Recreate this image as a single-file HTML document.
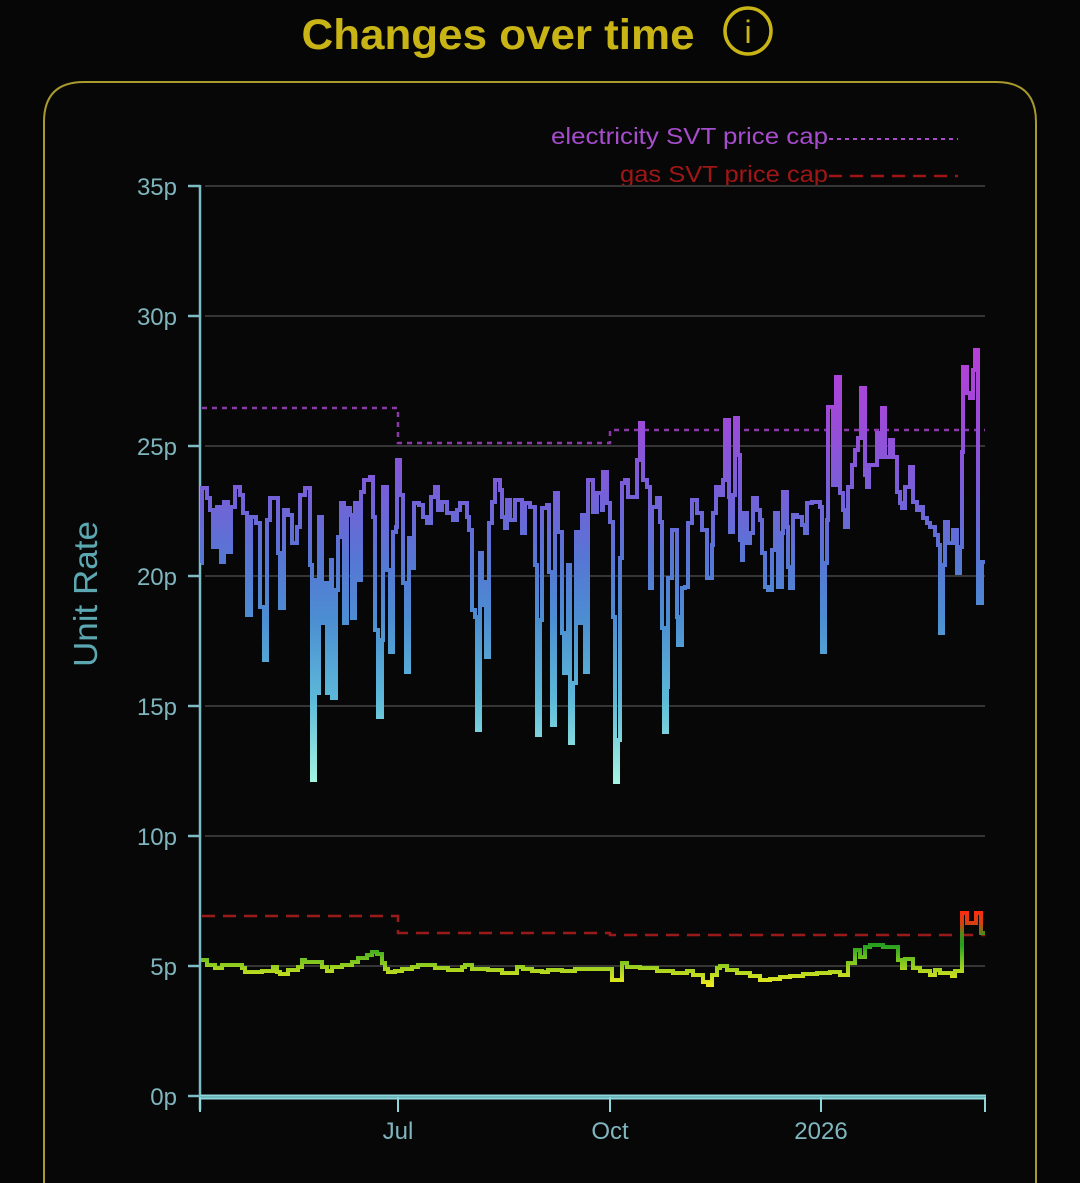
<!DOCTYPE html>
<html><head><meta charset="utf-8"><style>
html,body{margin:0;padding:0;background:#060606;}
svg{display:block;}
text{font-family:"Liberation Sans",sans-serif;}
</style></head><body>
<svg width="1080" height="1183" viewBox="0 0 1080 1183" xmlns="http://www.w3.org/2000/svg">
<defs>
<linearGradient id="eg" gradientUnits="userSpaceOnUse" x1="0" y1="350" x2="0" y2="785">
<stop offset="0" stop-color="#b83ed8"/>
<stop offset="0.17" stop-color="#9a4cd8"/>
<stop offset="0.33" stop-color="#7660d8"/>
<stop offset="0.48" stop-color="#5676d4"/>
<stop offset="0.62" stop-color="#4c8ed2"/>
<stop offset="0.8" stop-color="#5cb8d8"/>
<stop offset="1" stop-color="#a6f6e2"/>
</linearGradient>
<linearGradient id="gg" gradientUnits="userSpaceOnUse" x1="0" y1="910" x2="0" y2="986">
<stop offset="0" stop-color="#ff2a10"/>
<stop offset="0.18" stop-color="#d64010"/>
<stop offset="0.32" stop-color="#4c8c18"/>
<stop offset="0.46" stop-color="#24a020"/>
<stop offset="0.66" stop-color="#78c420"/>
<stop offset="0.82" stop-color="#b6d820"/>
<stop offset="1" stop-color="#f2ea20"/>
</linearGradient>
</defs>
<rect width="1080" height="1183" fill="#060606"/>
<!-- title -->
<text x="498" y="49" text-anchor="middle" font-size="43" font-weight="bold" fill="#c9b416" textLength="393" lengthAdjust="spacingAndGlyphs">Changes over time</text>
<circle cx="748" cy="31" r="23" fill="none" stroke="#c9b416" stroke-width="3.5"/>
<text x="748" y="43" text-anchor="middle" font-size="32" fill="#c9b416">i</text>
<!-- card -->
<path d="M44,1183 V122 Q44,82 84,82 H996 Q1036,82 1036,122 V1183" fill="#070707" stroke="#a89a2c" stroke-width="2"/>
<!-- legend -->
<text x="828" y="144" text-anchor="end" font-size="23" fill="#a64ccc" textLength="277" lengthAdjust="spacingAndGlyphs">electricity SVT price cap</text>
<line x1="829" y1="139" x2="958" y2="139" stroke="#a64ccc" stroke-width="2" stroke-dasharray="4 4"/>
<text x="828" y="182" text-anchor="end" font-size="23" fill="#a01616" textLength="208" lengthAdjust="spacingAndGlyphs">gas SVT price cap</text>
<line x1="829" y1="176" x2="958" y2="176" stroke="#a01616" stroke-width="2.5" stroke-dasharray="13 8"/>
<!-- grid -->
<g stroke="#353535" stroke-width="2">
<line x1="205" y1="186" x2="985" y2="186"/>
<line x1="205" y1="316" x2="985" y2="316"/>
<line x1="205" y1="446" x2="985" y2="446"/>
<line x1="205" y1="576" x2="985" y2="576"/>
<line x1="205" y1="706" x2="985" y2="706"/>
<line x1="205" y1="836" x2="985" y2="836"/>
<line x1="205" y1="966" x2="985" y2="966"/>
</g>
<!-- y axis -->
<g stroke="#7cbcc4" stroke-width="2.5">
<line x1="200" y1="185" x2="200" y2="1110"/>
<line x1="188" y1="186" x2="200" y2="186"/>
<line x1="188" y1="316" x2="200" y2="316"/>
<line x1="188" y1="446" x2="200" y2="446"/>
<line x1="188" y1="576" x2="200" y2="576"/>
<line x1="188" y1="706" x2="200" y2="706"/>
<line x1="188" y1="836" x2="200" y2="836"/>
<line x1="188" y1="966" x2="200" y2="966"/>
<line x1="188" y1="1096" x2="200" y2="1096"/>
</g>
<g font-size="24" fill="#7fb6be" text-anchor="end">
<text x="177" y="195">35p</text>
<text x="177" y="325">30p</text>
<text x="177" y="455">25p</text>
<text x="177" y="585">20p</text>
<text x="177" y="715">15p</text>
<text x="177" y="845">10p</text>
<text x="177" y="975">5p</text>
<text x="177" y="1105">0p</text>
</g>
<text transform="translate(97,594) rotate(-90)" text-anchor="middle" font-size="33" fill="#5ca8b2" textLength="146" lengthAdjust="spacingAndGlyphs">Unit Rate</text>
<!-- x axis -->
<line x1="200" y1="1097" x2="986" y2="1097" stroke="#8ed6da" stroke-width="5"/>
<line x1="200" y1="1097" x2="986" y2="1097" stroke="#4a9aa0" stroke-width="1"/>
<g stroke="#8ed6da" stroke-width="2">
<line x1="200" y1="1097" x2="200" y2="1112"/>
<line x1="398" y1="1097" x2="398" y2="1112"/>
<line x1="610" y1="1097" x2="610" y2="1112"/>
<line x1="821" y1="1097" x2="821" y2="1112"/>
<line x1="985" y1="1097" x2="985" y2="1112"/>
</g>
<g font-size="24" fill="#7fb6be" text-anchor="middle">
<text x="398" y="1139">Jul</text>
<text x="610" y="1139">Oct</text>
<text x="821" y="1139">2026</text>
</g>
<!-- caps -->
<path d="M202,408 H398 V443 H610 V430 H985" fill="none" stroke="#8a3aa8" stroke-width="2.5" stroke-dasharray="5 5"/>
<path d="M202,916 H398 V933 H610 V935 H985" fill="none" stroke="#9a1a1a" stroke-width="2.5" stroke-dasharray="13 8"/>
<!-- electricity -->
<path fill="none" stroke="url(#eg)" stroke-width="4" stroke-linejoin="miter" d="M201,563 H202 V488 H207 V498 H210 V510 H213 V547 H217 V507 H221 V562 H224 V502 H228 V552 H231 V507 H235 V487 H240 V495 H243 V513 H247 V615 H251 V517 H256 V523 H260 V607 H264 V660 H267 V520 H270 V498 H278 V553 H280 V608 H284 V510 H288 V515 H292 V543 H297 V527 H300 V495 H305 V488 H310 V565 H312 V780 H315 V580 H317 V693 H319 V517 H322 V623 H325 V583 H327 V693 H331 V560 H332 V698 H336 V590 H338 V537 H341 V503 H344 V623 H347 V508 H350 V515 H352 V618 H355 V503 H358 V580 H361 V492 H364 V480 H370 V477 H373 V517 H375 V630 H378 V717 H382 V640 H383 V487 H387 V570 H390 V652 H393 V532 H396 V527 H397 V460 H400 V495 H403 V583 H406 V672 H409 V538 H412 V568 H414 V503 H419 V505 H423 V517 H427 V523 H431 V497 H435 V487 H438 V510 H442 V502 H447 V513 H453 V520 H457 V510 H460 V503 H467 V517 H469 V530 H472 V610 H475 V617 H477 V730 H480 V553 H482 V605 H483 V582 H486 V657 H489 V523 H492 V502 H495 V480 H500 V490 H502 V517 H505 V528 H507 V500 H510 V520 H515 V500 H522 V533 H525 V503 H530 V507 H535 V565 H537 V735 H540 V620 H542 V508 H547 V505 H549 V572 H552 V725 H555 V493 H558 V532 H562 V633 H564 V673 H568 V565 H570 V743 H573 V683 H576 V532 H580 V623 H582 V515 H585 V672 H588 V480 H593 V512 H597 V493 H602 V510 H603 V472 H607 V503 H610 V522 H613 V617 H615 V782 H618 V740 H620 V558 H622 V483 H625 V480 H628 V497 H637 V460 H640 V423 H643 V480 H647 V487 H650 V588 H652 V507 H657 V498 H660 V522 H662 V628 H664 V732 H667 V687 H668 V578 H672 V530 H677 V617 H678 V645 H682 V588 H685 V587 H688 V523 H692 V500 H697 V513 H702 V530 H707 V578 H712 V545 H713 V513 H716 V487 H719 V495 H723 V480 H725 V420 H729 V497 H730 V532 H733 V495 H735 V418 H738 V455 H740 V540 H742 V560 H743 V513 H747 V543 H750 V533 H753 V498 H757 V510 H760 V520 H762 V553 H765 V587 H768 V590 H772 V550 H775 V513 H778 V587 H782 V533 H783 V492 H787 V527 H788 V567 H790 V588 H793 V515 H797 V517 H802 V525 H805 V533 H807 V503 H812 V502 H820 V507 H822 V652 H825 V563 H827 V520 H828 V407 H833 V485 H836 V377 H840 V493 H843 V510 H845 V527 H848 V487 H852 V465 H855 V450 H858 V438 H861 V388 H865 V475 H867 V487 H869 V465 H877 V433 H880 V457 H882 V408 H885 V457 H890 V440 H893 V457 H897 V492 H900 V503 H902 V508 H905 V487 H910 V467 H913 V502 H917 V510 H920 V507 H923 V518 H927 V523 H930 V527 H935 V535 H938 V545 H940 V633 H943 V565 H945 V522 H948 V543 H953 V530 H957 V573 H960 V547 H962 V452 H963 V367 H967 V393 H970 V398 H973 V370 H975 V350 H978 V603 H982 V562 H985"/>
<!-- gas -->
<path fill="none" stroke="url(#gg)" stroke-width="4" d="M201,960 H207 V965 H215 V968 H222 V965 H242 V968 H245 V972 H262 V971 H273 V967 H277 V972 H280 V974 H288 V970 H298 V967 H302 V960 H305 V962 H322 V967 H327 V971 H332 V967 H342 V965 H352 V962 H358 V958 H367 V955 H372 V952 H377 V954 H382 V963 H385 V969 H388 V972 H395 V971 H402 V969 H412 V967 H418 V965 H435 V968 H448 V970 H462 V967 H465 V965 H472 V969 H488 V970 H502 V973 H517 V967 H523 V969 H532 V971 H542 V972 H548 V970 H562 V971 H575 V969 H612 V980 H622 V963 H627 V967 H640 V968 H657 V971 H673 V973 H687 V971 H693 V975 H703 V982 H708 V985 H712 V975 H717 V968 H720 V966 H727 V970 H737 V973 H750 V976 H760 V980 H770 V979 H780 V977 H790 V976 H803 V974 H817 V973 H830 V972 H840 V975 H848 V963 H855 V950 H860 V957 H865 V947 H870 V945 H883 V947 H898 V960 H902 V968 H905 V959 H913 V968 H920 V971 H930 V975 H935 V970 H940 V973 H952 V976 H955 V971 H962 V913 H967 V923 H976 V913 H981 V933 H985"/>
</svg>
</body></html>
